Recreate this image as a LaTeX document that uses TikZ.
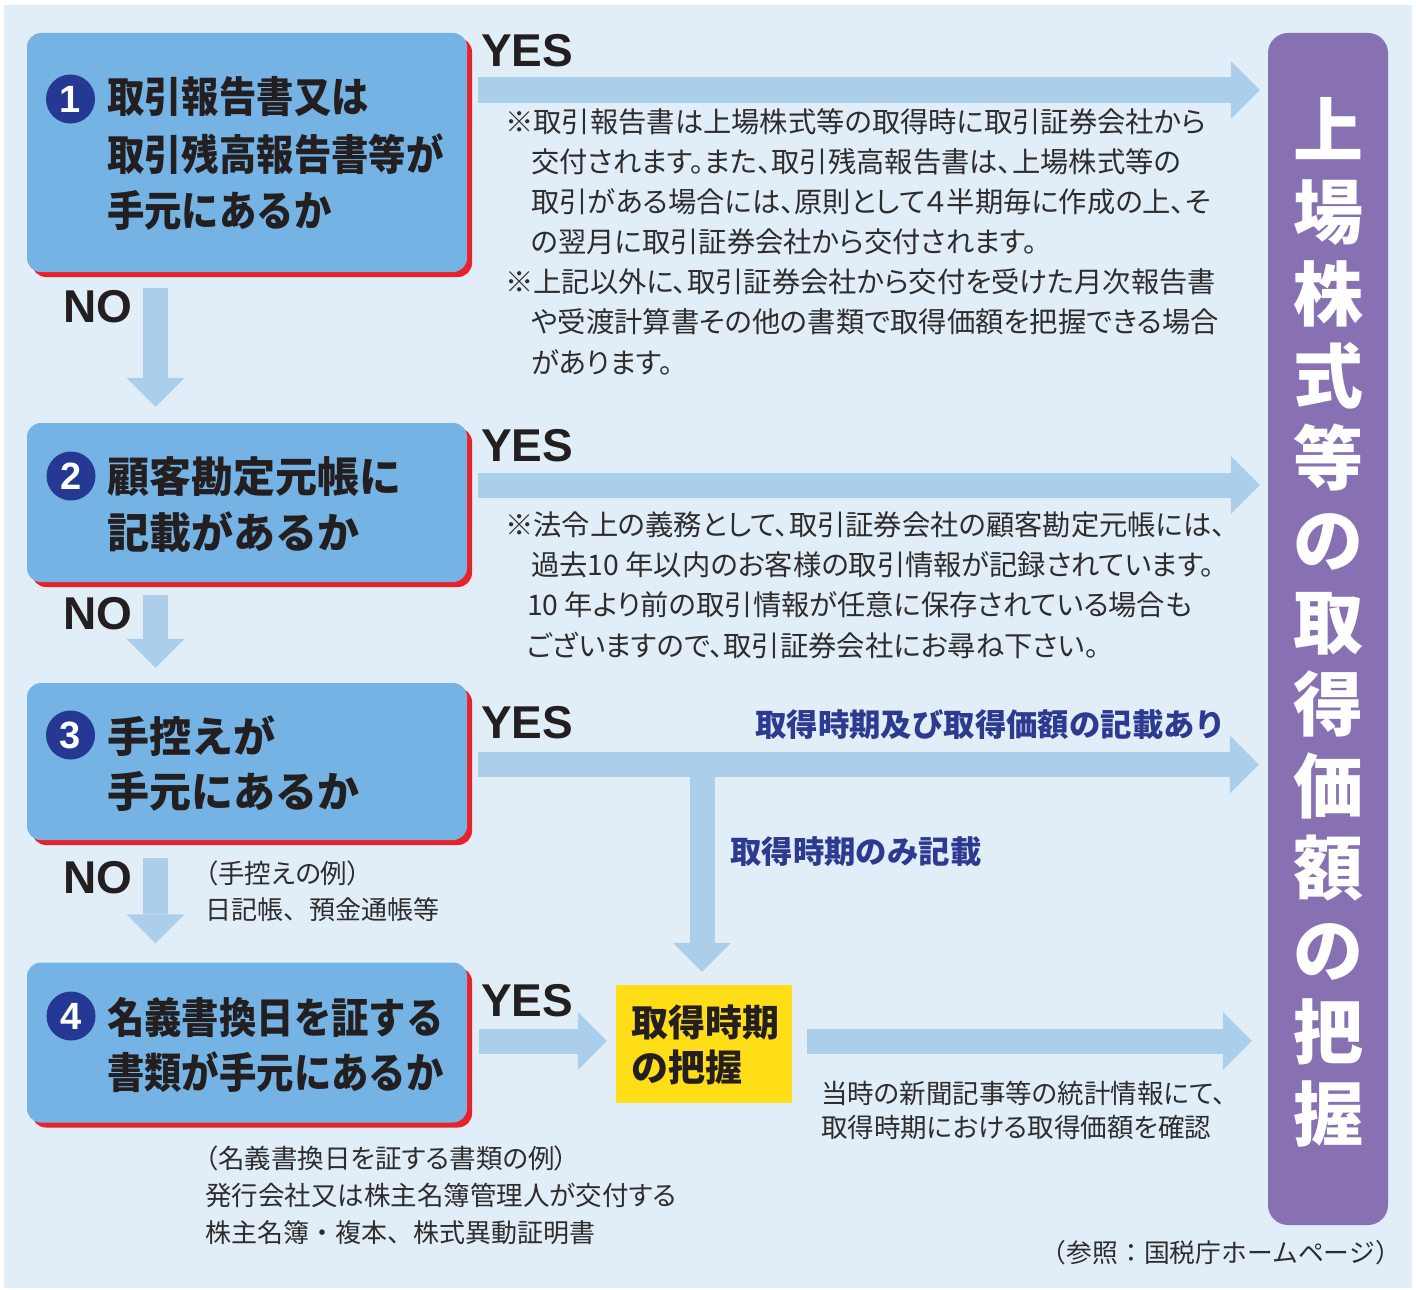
\documentclass[tikz,border=0pt]{standalone}
\usepackage{fontspec}
\newfontfamily\jp{Noto Sans CJK JP}
\newfontfamily\jpp[RawFeature=+palt]{Noto Sans CJK JP}
\newfontfamily\jpc[FakeStretch=0.89]{Noto Sans CJK JP}
\newfontfamily\lat{Liberation Sans}
\usetikzlibrary{calc,arrows.meta,shadows}
\definecolor{bgc}{HTML}{E1EEF8}
\definecolor{boxc}{HTML}{74B3E3}
\definecolor{arrc}{HTML}{ABCFEB}
\definecolor{redc}{HTML}{E8222B}
\definecolor{navy}{HTML}{253893}
\definecolor{purp}{HTML}{8771B3}
\definecolor{yel}{HTML}{FFDD17}
\definecolor{bluet}{HTML}{2D3A8F}
\definecolor{txt}{HTML}{231F20}
\definecolor{txtg}{HTML}{2E2C2D}
\tikzset{
  qbox/.style={fill=boxc, rounded corners=14pt, minimum width=440pt, inner sep=0pt,
    general shadow={fill=redc, shadow xshift=5pt, shadow yshift=-5pt}},
  num/.style={circle, fill=navy, text=white, minimum size=49pt, inner sep=0pt,
    font=\lat\bfseries\fontsize{38}{38}\selectfont},
  fat/.style={draw=arrc, line width=25pt, -{Triangle[width=58pt,length=29pt,line width=0pt]}},
  ln/.style={anchor=west, inner sep=0pt},
  ttlc/.style={ln, text=txt, font=\jpc\bfseries\fontsize{42}{42}\selectfont},
  ttl/.style={ln, text=txt, font=\jp\bfseries\fontsize{42}{42}\selectfont},
  yn/.style={ln, text=txt, font=\lat\bfseries\fontsize{46}{46}\selectfont},
  note/.style={ln, text=txtg, font=\jpp\fontsize{28.3}{28.3}\selectfont},
  small/.style={ln, text=txtg, font=\jpp\fontsize{26.5}{26.5}\selectfont},
  smallf/.style={ln, text=txtg, font=\jp\fontsize{26}{26}\selectfont},
  bluelbl/.style={ln, text=bluet, font=\jp\bfseries\fontsize{31.4}{31.4}\selectfont},
}
\begin{document}
\begin{tikzpicture}[x=1pt,y=-1pt]
\useasboundingbox (0,0) rectangle (1416,1290);
\fill[white] (0,0) rectangle (1416,1290);
\fill[bgc] (4,5) rectangle (1412,1288);

% main boxes
\node[qbox, minimum height=239pt] (b1) at (247,152.5) {};
\node[qbox, minimum height=159pt] (b2) at (247,502.5) {};
\node[qbox, minimum height=157pt] (b3) at (247,761.5) {};
\node[qbox, minimum height=160pt] (b4) at (247,1042.5) {};
\node[fill=purp, rounded corners=20pt, minimum width=120pt, minimum height=1192pt, inner sep=0pt] (pb) at (1328,629) {};
\node[fill=yel, minimum width=176pt, minimum height=118pt, inner sep=0pt] (yb) at (704,1044) {};

% arrows
\draw[fat] ($(b1.east |- 0,90)+(11,0)$) -- ($(pb.west |- 0,90)+(-8,0)$);
\draw[fat] ($(b2.east |- 0,485)+(11,0)$) -- ($(pb.west |- 0,485)+(-8,0)$);
\coordinate (br) at (702,764.5);
\draw[fat] ($(b3.east |- 0,764.5)+(11,0)$) -- ($(pb.west |- 0,764.5)+(-9,0)$);
\draw[fat] (br) -- ($(yb.north)+(-2,-13)$);
\draw[fat] ($(b4.east |- 0,1041)+(12,0)$) -- ($(yb.west |- 0,1041)+(-9,0)$);
\draw[fat] ($(yb.east |- 0,1041)+(15,0)$) -- ($(pb.west |- 0,1041)+(-16,0)$);
\draw[fat] ($(b1.south -| 155.5,0)+(0,16)$) -- ($(b2.north -| 155.5,0)+(0,-16)$);
\draw[fat] ($(b2.south -| 155.5,0)+(0,13)$) -- ($(b3.north -| 155.5,0)+(0,-15)$);
\draw[fat] ($(b3.south -| 155.5,0)+(0,18)$) -- ($(b4.north -| 155.5,0)+(0,-19)$);

% numbers
\node[num] (n1) at (70.5,99) {1};
\node[num] (n2) at (71,476) {2};
\node[num] (n3) at (70.5,735) {3};
\node[num] (n4) at (71,1016) {4};

% box titles
\node[ttlc] (t1a) at (107,97) {取引報告書又は};
\node[ttlc] (t1b) at (107,154) {取引残高報告書等が};
\node[ttlc] (t1c) at (107,210) {手元にあるか};
\node[ttl] (t2a) at (107,477) {顧客勘定元帳に};
\node[ttl] (t2b) at (107,532) {記載があるか};
\node[ttl] (t3a) at (107,736) {手控えが};
\node[ttl] (t3b) at (107,791) {手元にあるか};
\node[ttlc] (t4a) at (107,1017) {名義書換日を証する};
\node[ttlc] (t4b) at (107,1072) {書類が手元にあるか};

% YES / NO
\node[yn] (y1) at (481,51) {YES};
\node[yn] (y2) at (481,446) {YES};
\node[yn] (y3) at (481,723) {YES};
\node[yn] (y4) at (481,1001) {YES};
\node[yn] (no1) at (63,307) {NO};
\node[yn] (no2) at (63,614) {NO};
\node[yn] (no3) at (63,878) {NO};

% notes 1
\node[note] (m1) at (505,122) {※取引報告書は上場株式等の取得時に取引証券会社から};
\node[note] (m2) at (531,162) {交付されます。また、取引残高報告書は、上場株式等の};
\node[note] (m3) at (531,202) {取引がある場合には、原則として４半期毎に作成の上、そ};
\node[note] (m4) at (531,242) {の翌月に取引証券会社から交付されます。};
\node[note] (m5) at (505,282) {※上記以外に、取引証券会社から交付を受けた月次報告書};
\node[note] (m6) at (531,322) {や受渡計算書その他の書類で取得価額を把握できる場合};
\node[note] (m7) at (531,362) {があります。};
% notes 2
\node[note] (k1) at (505,525) {※法令上の義務として、取引証券会社の顧客勘定元帳には、};
\node[note] (k2) at (531,565) {過去10 年以内のお客様の取引情報が記録されています。};
\node[note] (k3) at (527,605) {10 年より前の取引情報が任意に保存されている場合も};
\node[note] (k4) at (527,645) {ございますので、取引証券会社にお尋ね下さい。};

% blue labels
\node[bluelbl] (l1) at (755,725) {取得時期及び取得価額の記載あり};
\node[bluelbl] (l2) at (730,852) {取得時期のみ記載};

% yellow box text
\node[ln, text=txt, font=\jp\bfseries\fontsize{37}{37}\selectfont] (yt1) at (631,1022) {取得時期};
\node[ln, text=txt, font=\jp\bfseries\fontsize{37}{37}\selectfont] (yt2) at (631,1067) {の把握};

% small notes
\node[small] (s1) at (205,873) {（手控えの例）};
\node[smallf] (s2) at (205,910) {日記帳、預金通帳等};
\node[small] (s3) at (205,1158) {（名義書換日を証する書類の例）};
\node[small] (s4) at (205,1195) {発行会社又は株主名簿管理人が交付する};
\node[smallf] (s5) at (205,1233) {株主名簿・複本、株式異動証明書};
\node[small] (s6) at (821,1093) {当時の新聞記事等の統計情報にて、};
\node[small] (s7) at (821,1127) {取得時期における取得価額を確認};
\node[ln, text=txtg, font=\jp\fontsize{25.8}{25.8}\selectfont, anchor=east] (ref) at (1401,1253) {（参照：国税庁ホームページ）};

% purple vertical text
\node[text=white, font=\jp\bfseries\fontsize{70}{82}\selectfont, align=center, inner sep=0pt] (pt) at (1328,622)
  {上\\場\\株\\式\\等\\の\\取\\得\\価\\額\\の\\把\\握};
\end{tikzpicture}
\end{document}
